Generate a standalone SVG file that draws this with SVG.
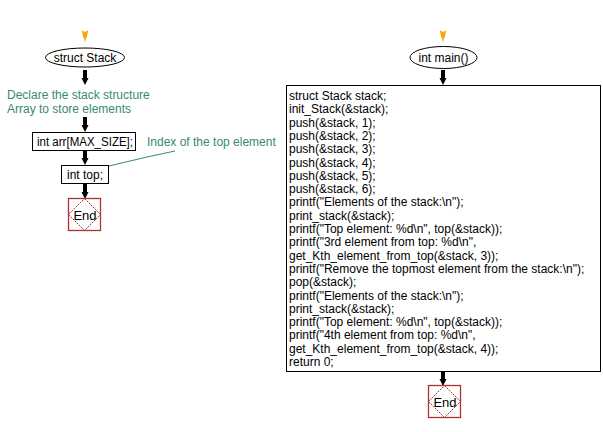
<svg xmlns="http://www.w3.org/2000/svg" width="603" height="432" viewBox="0 0 603 432">
<style>
text{font-family:"Liberation Sans",Arial,sans-serif;font-size:12px;fill:#000}
.c{fill:#3a8a6c}
.e{font-size:13px}
.box{fill:#fff;stroke:#000;stroke-width:1}
.endsq{fill:#fff;stroke:#a33;stroke-width:1.3}
.dia{fill:none;stroke:#a33;stroke-width:1;stroke-dasharray:2,1}
.arr{fill:#000}
.org{fill:#fca311}
</style>
<defs>
<path id="ba" d="M-2,0 L2,0 L2,8 L3.5,8 L0,15 L-3.5,8 L-2,8 Z"/>
<path id="oa" d="M-3,0 L0,2 L3,0 L2,7 L1,8 L0,13 L-1,8 L-2,7 Z"/>
</defs>
<rect width="603" height="432" fill="#fff"/>
<g id="connectors">
<use href="#oa" x="85" y="30" class="org"/>
<use href="#ba" x="85" y="70" class="arr"/>
<use href="#ba" x="85" y="117" class="arr"/>
<use href="#ba" x="85" y="150" class="arr"/>
<use href="#ba" x="85" y="184" class="arr"/>
<use href="#oa" x="443" y="30" class="org"/>
<use href="#ba" x="443" y="70" class="arr"/>
<use href="#ba" x="443" y="371" class="arr"/>
<polyline points="109,166 147,157 175,151" fill="none" stroke="#3a8a6c" stroke-width="1"/>
</g>
<g id="start1">
<ellipse cx="85" cy="57.5" rx="39.5" ry="9.5" class="box"/>
<text x="85" y="62" text-anchor="middle">struct Stack</text>
</g>
<g id="comment1">
<text x="7" y="99" class="c">Declare the stack structure</text>
<text x="7" y="113" class="c">Array to store elements</text>
</g>
<g id="arr">
<rect x="32.5" y="132.5" width="103" height="18" class="box"/>
<text x="37" y="146" textLength="96" lengthAdjust="spacingAndGlyphs">int arr[MAX_SIZE];</text>
</g>
<g id="comment2">
<text x="147" y="146" class="c">Index of the top element</text>
</g>
<g id="top">
<rect x="61.5" y="165.5" width="47" height="18" class="box"/>
<text x="67" y="179">int top;</text>
</g>
<g id="end1">
<rect x="68.5" y="198.5" width="32" height="32" class="endsq"/>
<polygon points="84.5,198.5 100.5,214.5 84.5,230.5 68.5,214.5" class="dia"/>
<text x="85" y="220" text-anchor="middle" class="e">End</text>
</g>
<g id="start2">
<ellipse cx="443.5" cy="57.5" rx="33.5" ry="11" class="box"/>
<text x="443.5" y="62" text-anchor="middle">int main()</text>
</g>
<g id="main">
<rect x="286.5" y="85.5" width="314" height="286" class="box"/>
<text x="289" y="100">struct Stack stack;</text>
<text x="289" y="113.3">init_Stack(&amp;stack);</text>
<text x="289" y="126.6">push(&amp;stack, 1);</text>
<text x="289" y="139.9">push(&amp;stack, 2);</text>
<text x="289" y="153.2">push(&amp;stack, 3);</text>
<text x="289" y="166.5">push(&amp;stack, 4);</text>
<text x="289" y="179.8">push(&amp;stack, 5);</text>
<text x="289" y="193.1">push(&amp;stack, 6);</text>
<text x="289" y="206.4">printf("Elements of the stack:\n");</text>
<text x="289" y="219.7">print_stack(&amp;stack);</text>
<text x="289" y="233">printf("Top element: %d\n", top(&amp;stack));</text>
<text x="289" y="246.3">printf("3rd element from top: %d\n",</text>
<text x="289" y="259.6">get_Kth_element_from_top(&amp;stack, 3));</text>
<text x="289" y="272.9">printf("Remove the topmost element from the stack:\n");</text>
<text x="289" y="286.2">pop(&amp;stack);</text>
<text x="289" y="299.5">printf("Elements of the stack:\n");</text>
<text x="289" y="312.8">print_stack(&amp;stack);</text>
<text x="289" y="326.1">printf("Top element: %d\n", top(&amp;stack));</text>
<text x="289" y="339.4">printf("4th element from top: %d\n",</text>
<text x="289" y="352.7">get_Kth_element_from_top(&amp;stack, 4));</text>
<text x="289" y="366">return 0;</text>
</g>
<g id="end2">
<rect x="428.5" y="385.5" width="32" height="32" class="endsq"/>
<polygon points="444.5,385.5 460.5,401.5 444.5,417.5 428.5,401.5" class="dia"/>
<text x="445" y="407" text-anchor="middle" class="e">End</text>
</g>
</svg>
